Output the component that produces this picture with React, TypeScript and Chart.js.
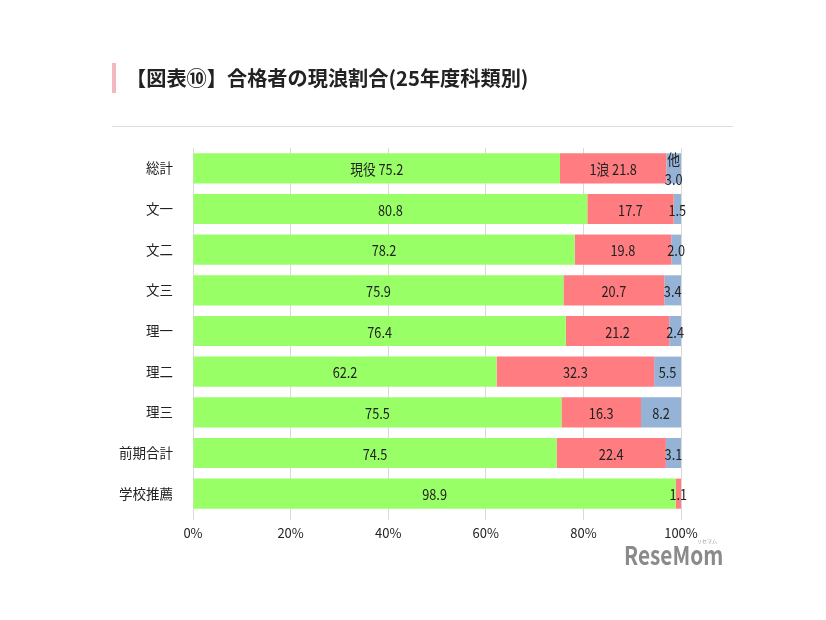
import React, { useEffect, useRef } from "react";
import { Chart, registerables } from "chart.js";

Chart.register(...registerables);

const categories = ["総計", "文一", "文二", "文三", "理一", "理二", "理三", "前期合計", "学校推薦"];
const genekiValues = [75.2, 80.8, 78.2, 75.9, 76.4, 62.2, 75.5, 74.5, 98.9];
const ichiroValues = [21.8, 17.7, 19.8, 20.7, 21.2, 32.3, 16.3, 22.4, 1.1];
const otherValues = [3.0, 1.5, 2.0, 3.4, 2.4, 5.5, 8.2, 3.1, 0];
const seriesNames = ["現役", "1浪", "他"];
const xTicks = [0, 20, 40, 60, 80, 100];

const FONT = '"Noto Sans CJK JP", "Noto Sans", sans-serif';

const labelPlugin = {
  id: "barLabels",
  afterDatasetsDraw(chart: any) {
    const ctx = chart.ctx;
    const sx = 0.85;
    const put = (t: string, x: number, y: number) => {
      ctx.save();
      ctx.translate(x, y);
      ctx.scale(sx, 1);
      ctx.fillText(t, 0, 0);
      ctx.restore();
    };
    ctx.save();
    ctx.font = `15px ${FONT}`;
    ctx.fillStyle = "#222";
    ctx.textAlign = "center";
    ctx.textBaseline = "middle";
    chart.data.datasets.forEach((ds: any, di: number) => {
      const meta = chart.getDatasetMeta(di);
      meta.data.forEach((bar: any, i: number) => {
        const v = ds.data[i];
        if (!v) return;
        const cx = (bar.x + bar.base) / 2;
        const cy = bar.y + 1;
        const txt = v.toFixed(1);
        if (i === 0) {
          if (di === 2) {
            put(seriesNames[di], cx, cy - 10);
            put(txt, cx, cy + 10);
          } else {
            put(seriesNames[di] + " " + txt, cx, cy);
          }
        } else {
          put(txt, cx, cy);
        }
      });
    });
    ctx.restore();
  },
};

export default function App() {
  const ref = useRef<HTMLCanvasElement>(null);
  useEffect(() => {
    const chart = new Chart(ref.current!, {
      type: "bar",
      data: {
        labels: categories,
        datasets: [
          { label: seriesNames[0], data: genekiValues, backgroundColor: "#99FF66" },
          { label: seriesNames[1], data: ichiroValues, backgroundColor: "#FF7C80" },
          { label: seriesNames[2], data: otherValues, backgroundColor: "#95B3D7" },
        ],
      },
      options: {
        indexAxis: "y",
        animation: false,
        responsive: false,
        maintainAspectRatio: false,
        layout: { padding: { left: 100, right: 145, top: 148, bottom: 66 } },
        datasets: { bar: { categoryPercentage: 0.74, barPercentage: 1.0 } },
        plugins: { legend: { display: false }, tooltip: { enabled: false } },
        scales: {
          x: {
            stacked: true,
            min: 0,
            max: 100,
            afterFit: (s: any) => { s.height = 40; },
            afterBuildTicks: (s: any) => { s.ticks = xTicks.map((v) => ({ value: v })); },
            ticks: {
              callback: (v: any) => v + "%",
              color: "#222",
              font: { family: FONT, size: 13 },
              padding: 5,
            },
            grid: { color: "#d9d9d9", tickLength: 6, drawOnChartArea: true },
            border: { display: false },
          },
          y: {
            stacked: true,
            afterFit: (s: any) => { s.width = 93; },
            ticks: { color: "#222", font: { family: FONT, size: 13.5 }, padding: 12 },
            grid: { display: false },
            border: { display: false },
          },
        },
      },
      plugins: [labelPlugin],
    });
    return () => chart.destroy();
  }, []);

  return (
    <div style={{ position: "absolute", left: 0, top: 0, width: 826, height: 620, background: "#fff", overflow: "hidden" }}>
      <canvas ref={ref} width={826} height={620} style={{ position: "absolute", left: 0, top: 0 }} />
      <div style={{ position: "absolute", left: 112, top: 63, width: 4, height: 30, background: "#f2b8bd" }} />
      <div style={{ position: "absolute", left: 126, top: 62, fontFamily: FONT, fontWeight: 700, fontSize: 20.2, lineHeight: "32px", color: "#222", whiteSpace: "nowrap" }}>
        【図表⑩】合格者の現浪割合(25年度科類別)
      </div>
      <div style={{ position: "absolute", left: 112, top: 126, width: 621, height: 1, background: "#dddddd" }} />
      <div style={{ position: "absolute", left: 624, top: 538, fontFamily: FONT, fontWeight: 700, fontSize: 26, lineHeight: "32px", color: "#8a8a8a", whiteSpace: "nowrap", transform: "scaleX(0.8)", transformOrigin: "left top" }}>
        ReseMom
      </div>
      <div style={{ position: "absolute", left: 697, top: 537, fontFamily: FONT, fontSize: 5, color: "#999" }}>リセマム</div>
    </div>
  );
}
